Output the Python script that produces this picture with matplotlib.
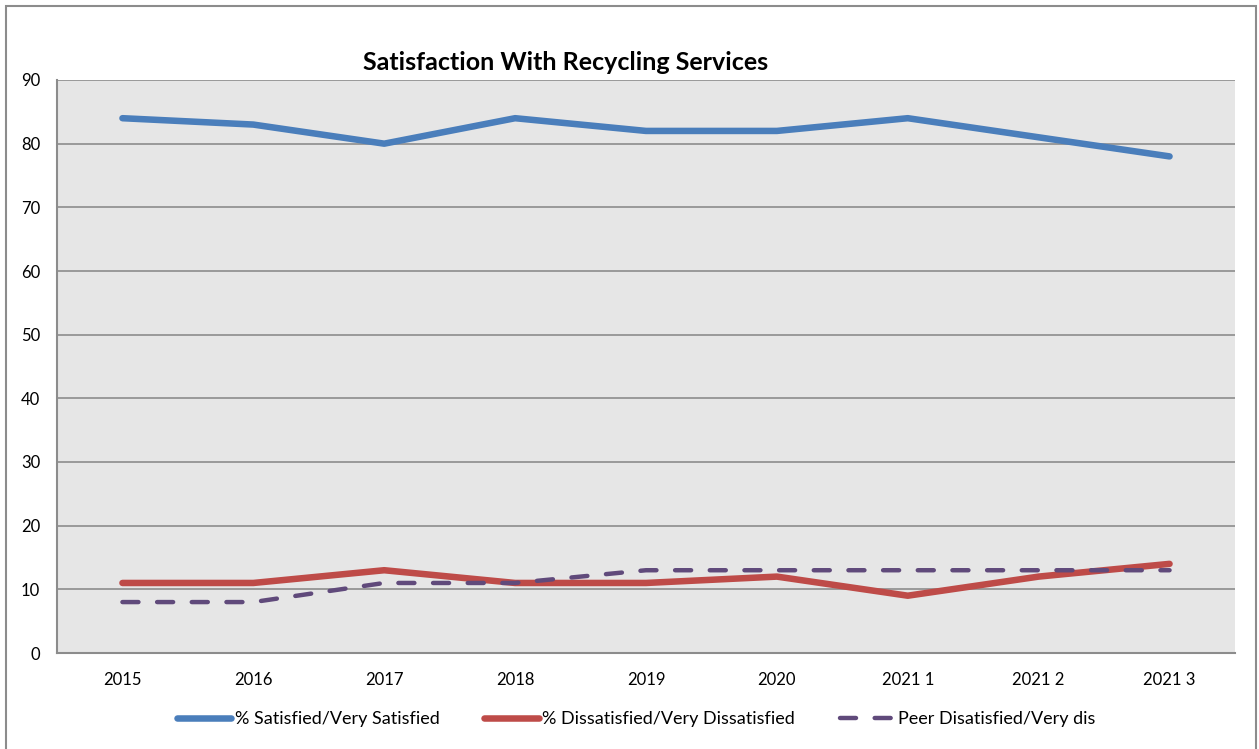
import matplotlib.pyplot as plt
from matplotlib.patches import Rectangle

# --- Data ---
categories = ['2015', '2016', '2017', '2018', '2019', '2020', '2021 1', '2021 2', '2021 3']
satisfied = [84, 83, 80, 84, 82, 82, 84, 81, 78]
dissatisfied = [11, 11, 13, 11, 11, 12, 9, 12, 14]
peer_dissatisfied = [8, 8, 11, 11, 13, 13, 13, 13, 13]

plt.rcParams['font.family'] = ['Lato', 'DejaVu Sans']

fig = plt.figure(figsize=(12.59, 7.49), dpi=100)
fig.patch.set_facecolor('white')

# outer chart border
fig.patches.append(Rectangle((6 / 1259, -0.1), 1250 / 1259, 1 - 6 / 749 + 0.1,
                             transform=fig.transFigure, fill=False,
                             edgecolor='#8c8c8c', linewidth=1.5))

ax = fig.add_axes([57 / 1259, 1 - 653 / 749, 1178 / 1259, 573 / 749])
ax.set_facecolor('#e6e6e6')

x = range(len(categories))
ax.plot(x, satisfied, color='#4a7ebb', linewidth=4.7, solid_capstyle='round',
        label='% Satisfied/Very Satisfied', zorder=3)
ax.plot(x, dissatisfied, color='#be4b48', linewidth=4.7, solid_capstyle='round',
        label='% Dissatisfied/Very Dissatisfied', zorder=3)
ax.plot(x, peer_dissatisfied, color='#604a7b', linewidth=3.2, linestyle=(0, (3.6, 4.2)),
        dash_capstyle='round', label='Peer Disatisfied/Very dis', zorder=4)

ax.set_xlim(-0.5, len(categories) - 0.5)
ax.set_ylim(0, 90)
ax.set_yticks(range(0, 91, 10))
ax.set_xticks(list(x))
ax.set_xticklabels(categories)
ax.yaxis.grid(True, color='#8c8c8c', linewidth=1.2)
ax.set_axisbelow(True)
ax.tick_params(axis='both', length=0, labelsize=12, colors='black')
ax.tick_params(axis='y', pad=12)
ax.tick_params(axis='x', pad=14)

for side in ['top', 'right']:
    ax.spines[side].set_visible(False)
for side in ['left', 'bottom']:
    ax.spines[side].set_color('#8c8c8c')
    ax.spines[side].set_linewidth(1.5)

fig.text(566 / 1259, 1 - 63 / 749, 'Satisfaction With Recycling Services',
         ha='center', va='center', fontsize=18, fontweight='bold')

fig.legend(loc='center', bbox_to_anchor=(636 / 1259, 1 - 719 / 749), ncol=3, frameon=False,
           fontsize=13, handlelength=3.0, handletextpad=0.2, columnspacing=2.5)

fig.savefig('out.png', dpi=100)
